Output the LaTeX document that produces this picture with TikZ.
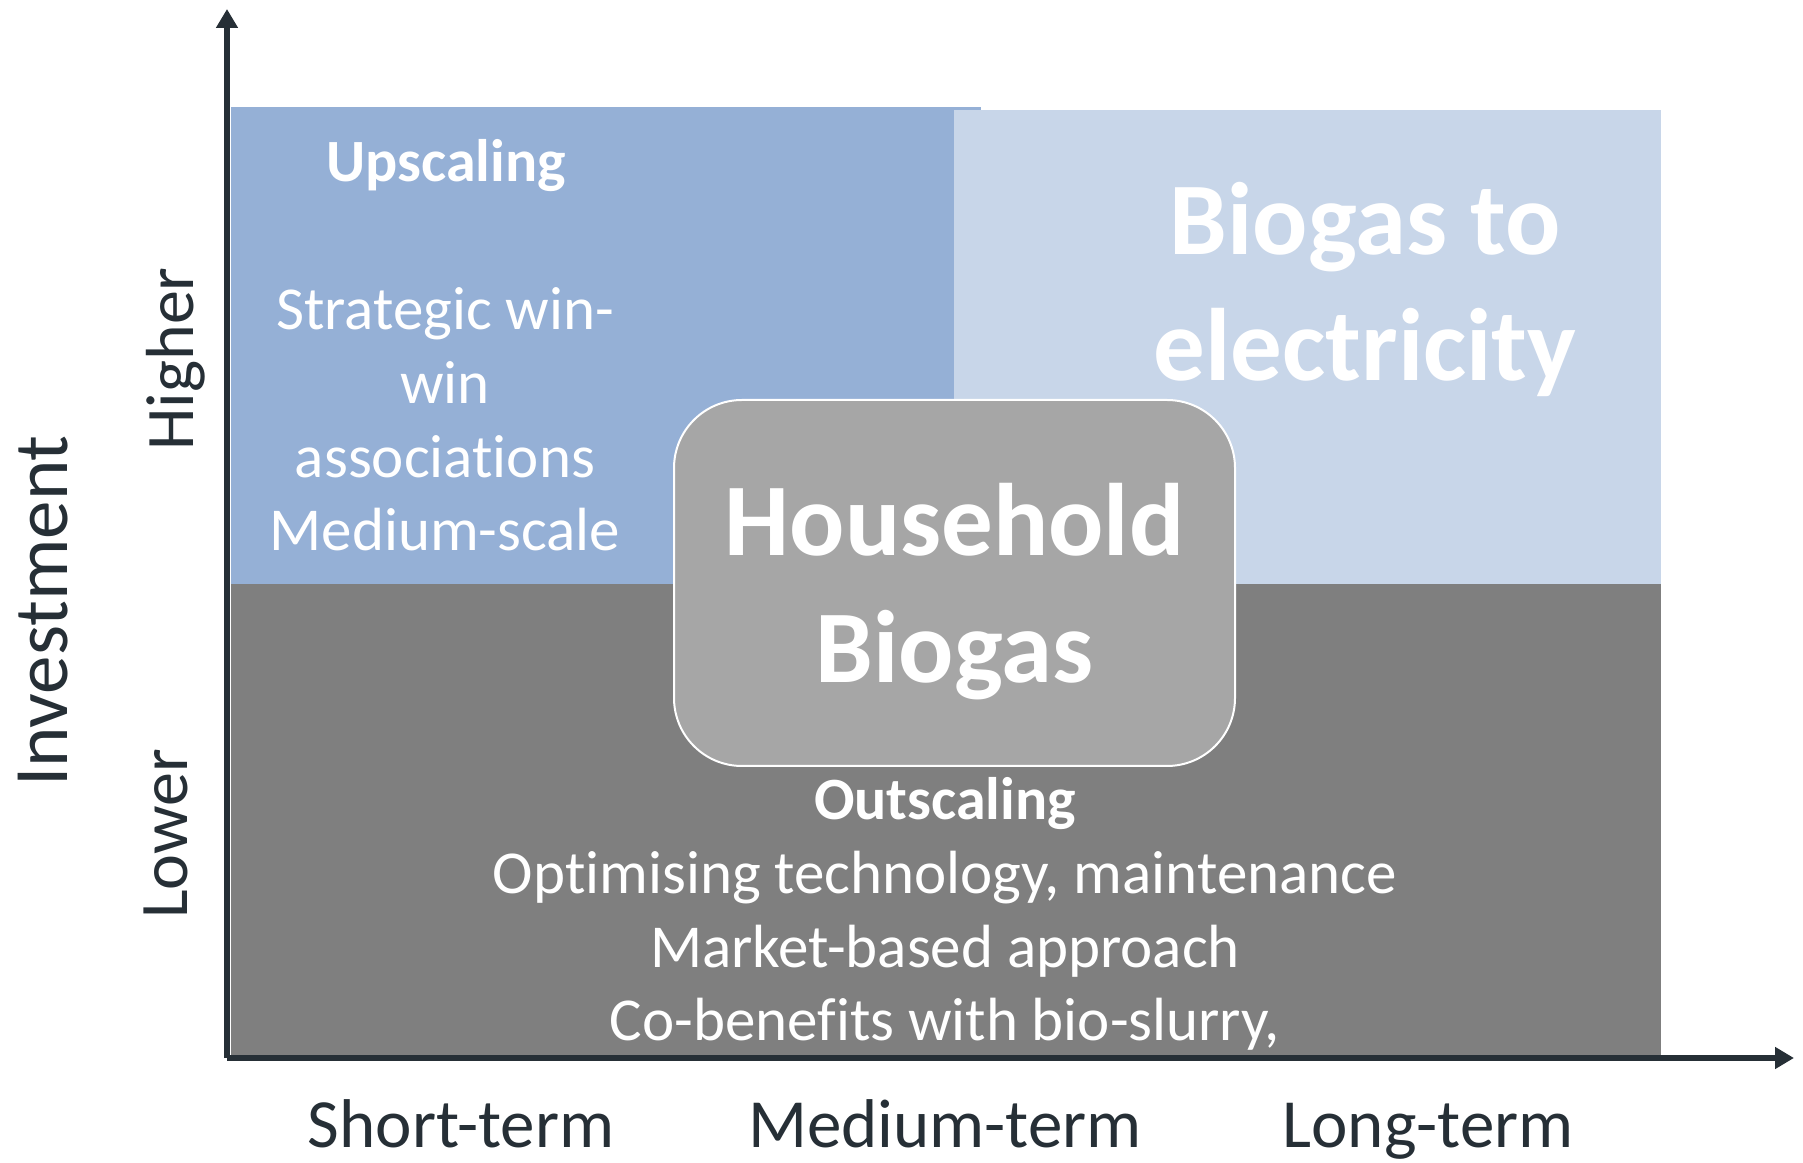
\documentclass[tikz,border=0pt]{standalone}
\usepackage{fontspec}
\setmainfont{Carlito}[Ligatures={NoCommon,NoContextual}]
\usepackage{tikz}
\usetikzlibrary{arrows.meta,positioning}
\definecolor{upblue}{HTML}{95B0D6}
\definecolor{elecblue}{HTML}{C8D6E9}
\definecolor{outgray}{HTML}{7F7F7F}
\definecolor{hhgray}{HTML}{A6A6A6}
\definecolor{axiscol}{HTML}{262F36}

\begin{document}
\begin{tikzpicture}[x=1pt,y=1pt,>={Triangle[length=19pt,width=21pt]},node distance=73.6pt,
  every node/.style={text=white,inner sep=0pt},
  axis/.style={->,line width=5.5pt,draw=axiscol},
  head/.style={anchor=base,font=\fontsize{60}{72}\selectfont\bfseries},
  body/.style={anchor=base,font=\fontsize{61}{73}\selectfont},
  big/.style={anchor=base,font=\fontsize{103}{124}\selectfont\bfseries},
  term/.style={anchor=base,text=axiscol,font=\fontsize{69}{83}\selectfont},
  level/.style={anchor=base,rotate=90,text=axiscol,font=\fontsize{68}{82}\selectfont}]
  \useasboundingbox (0,0) rectangle (1803,1162);

  % areas
  \fill[upblue]   (231,1055) rectangle (981,578);
  \fill[elecblue] (954,1052) rectangle (1661,578);
  \fill[outgray]  (231,578)  rectangle (1661,107);

  % axes
  \coordinate (o)  at (227,104);
  \coordinate (yt) at (227,1153);
  \coordinate (xt) at (1794,104);
  \draw[axis] (o) -- (yt);
  \draw[axis] (o) -- (xt);

  % upscaling
  \node[head] (up) at (446,980) {Upscaling};
  \node[body] (s1) at (445,832) {Strategic win-};
  \node[body] (s2) [below=of s1.base,anchor=base] {win};
  \node[body] (s3) [below=of s2.base,anchor=base] {associations};
  \node[body] (s4) [below=of s3.base,anchor=base] {Medium-scale};

  % biogas to electricity
  \node[big] (e1) at (1365,907) {Biogas to};
  \node[big] (e2) at (1365,781) {electricity};

  % outscaling
  \node[head] (out) at (945,342) {Outscaling};
  \node[body] (o1) [below=of out.base,anchor=base] {Optimising technology, maintenance};
  \node[body] (o2) [below=of o1.base,anchor=base] {Market-based approach};
  \node[body] (o3) [below=of o2.base,anchor=base] {Co-benefits with bio-slurry,};

  % household biogas
  \tikzset{hhbox/.style={draw=white,line width=2pt,fill=hhgray,rounded corners=68pt,
    minimum width=561pt,minimum height=366pt,align=center,text depth=0pt,
    font=\fontsize{103}{127}\selectfont\bfseries}}
  \node[hhbox] (hh) at (954.5,579) {Household\\Biogas};

  % axis labels
  \node[term] (short) at (461,15) {Short-term};
  \node[term] (med)   at (945,15) {Medium-term};
  \node[term] (long)  at (1428,15) {Long-term};
  \node[level,font=\fontsize{77}{92}\selectfont] (inv) at (67,551) {Investment};
  \node[level] (hi) at (193,803) {Higher};
  \node[level] (lo) at (187,328) {Lower};
\end{tikzpicture}
\end{document}
